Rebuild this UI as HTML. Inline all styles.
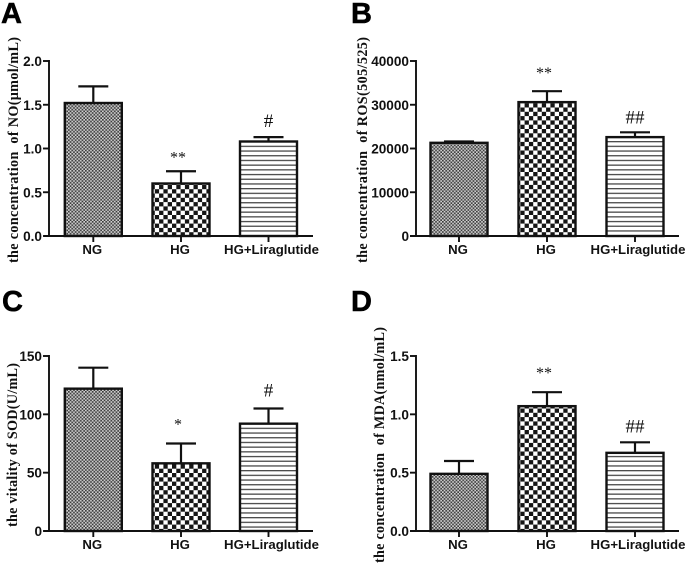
<!DOCTYPE html>
<html lang="en">
<head>
<meta charset="utf-8">
<title>Four-panel bar charts</title>
<style>
html,body{margin:0;padding:0;background:#fff;width:687px;height:566px;overflow:hidden}
svg{display:block}
.tick{font:bold 13.6px "Liberation Sans",sans-serif;fill:#111}
.cat{font:bold 13.2px "Liberation Sans",sans-serif;fill:#111}
.ytitle{font:bold 14.2px "Liberation Serif",serif;fill:#111}
.letter{font:bold 29px "Liberation Sans",sans-serif;fill:#000;stroke:#000;stroke-width:.5px}
.sig{font:16px "Liberation Serif",serif;fill:#111}
.hash{font:19px "Liberation Serif",serif;fill:#111}
</style>
</head>
<body>
<svg id="figure" xmlns="http://www.w3.org/2000/svg" width="687" height="566" viewBox="0 0 687 566">
  <defs>
    <pattern id="fine" patternUnits="userSpaceOnUse" width="3.4" height="3.4">
      <rect width="3.4" height="3.4" fill="#d2d2d2"/>
      <rect width="1.7" height="1.7" fill="#3c3c3c"/>
      <rect x="1.7" y="1.7" width="1.7" height="1.7" fill="#3c3c3c"/>
    </pattern>
    <pattern id="checker" patternUnits="userSpaceOnUse" width="8.6" height="8.6">
      <rect width="8.6" height="8.6" fill="#fff"/>
      <rect width="4.3" height="4.3" fill="#151515"/>
      <rect x="4.3" y="4.3" width="4.3" height="4.3" fill="#151515"/>
    </pattern>
    <pattern id="lines" patternUnits="userSpaceOnUse" width="10" height="4.7">
      <rect width="10" height="4.7" fill="#fff"/>
      <rect y="0" width="10" height="1.3" fill="#4a4a4a"/>
    </pattern>
  </defs>
</svg>
<script>
const categories = ['NG', 'HG', 'HG+Liraglutide'];

const valuesA = [1.52, 0.60, 1.08];
const errorTopsA = [1.71, 0.74, 1.13];
const ticksA = [0, 0.5, 1.0, 1.5, 2.0];
const tickLabelsA = ['0.0', '0.5', '1.0', '1.5', '2.0'];
const marksA = ['', '**', '#'];

const valuesB = [21300, 30600, 22600];
const errorTopsB = [21600, 33100, 23700];
const ticksB = [0, 10000, 20000, 30000, 40000];
const tickLabelsB = ['0', '10000', '20000', '30000', '40000'];
const marksB = ['', '**', '##'];

const valuesC = [122, 58, 92];
const errorTopsC = [140, 75, 105];
const ticksC = [0, 50, 100, 150];
const tickLabelsC = ['0', '50', '100', '150'];
const marksC = ['', '*', '#'];

const valuesD = [0.49, 1.07, 0.67];
const errorTopsD = [0.60, 1.19, 0.76];
const ticksD = [0, 0.5, 1.0, 1.5];
const tickLabelsD = ['0.0', '0.5', '1.0', '1.5'];
const marksD = ['', '**', '##'];

const panels = [
  {id:'a', letter:'A', lx:1, ly:23, axisX:49, top:61, bottom:236, xStart:44, xEnd:313, centers:[93.3,181,268.5],
   max:2, values:valuesA, tops:errorTopsA, ticks:ticksA, labels:tickLabelsA, marks:marksA,
   title:'the concentration  of NO(μmol/mL)', tx:18, ty1:263, ty2:37, gaps:[0,10,10]},
  {id:'b', letter:'B', lx:351, ly:23, axisX:416, top:61, bottom:236, xStart:410, xEnd:679, centers:[459,547,635],
   max:40000, values:valuesB, tops:errorTopsB, ticks:ticksB, labels:tickLabelsB, marks:marksB,
   title:'the concentration  of ROS(505/525)', tx:367, ty1:263, ty2:37, gaps:[0,14,9]},
  {id:'c', letter:'C', lx:2, ly:311, axisX:49, top:356, bottom:531, xStart:44, xEnd:313, centers:[93.3,181,268.5],
   max:150, values:valuesC, tops:errorTopsC, ticks:ticksC, labels:tickLabelsC, marks:marksC,
   title:'the vitality of SOD(U/mL)', tx:17, ty1:527, ty2:363, gaps:[0,15,12]},
  {id:'d', letter:'D', lx:351, ly:311, axisX:416, top:356, bottom:531, xStart:410, xEnd:679, centers:[459,547,635],
   max:1.5, values:valuesD, tops:errorTopsD, ticks:ticksD, labels:tickLabelsD, marks:marksD,
   title:'the concentration  of MDA(nmol/mL)', tx:384, ty1:563, ty2:327, gaps:[0,15,10]}
];
const fills = ['url(#fine)', 'url(#checker)', 'url(#lines)'];
const barHalf = 28.5;
const capHalf = 15;
const ink = '#111';

const svg = document.getElementById('figure');
const NS = 'http://www.w3.org/2000/svg';

function make(tag, attrs, parent, text) {
  const node = document.createElementNS(NS, tag);
  for (const k in attrs) node.setAttribute(k, attrs[k]);
  if (text !== undefined) node.textContent = text;
  parent.appendChild(node);
  return node;
}

panels.forEach(function (p) {
  const y = function (v) { return p.bottom - (v / p.max) * (p.bottom - p.top); };

  const g = make('g', {}, svg);
  
  

  const letter = make('text', {x: p.lx, y: p.ly, class: 'letter'}, g, p.letter);
  
  

  const title = make('text', {
    class: 'ytitle',
    transform: 'translate(' + p.tx + ',' + p.ty1 + ') rotate(-90)',
    textLength: p.ty1 - p.ty2,
    lengthAdjust: 'spacing',
    style: 'white-space:pre'
  }, g, p.title);
  
  

  categories.forEach(function (cat, i) {
    const cx = p.centers[i];
    const top = y(p.values[i]);
    const errTop = y(p.tops[i]);

    const stem = make('line', {x1: cx, x2: cx, y1: top, y2: errTop, stroke: ink, 'stroke-width': 2.2}, g);
    
    

    const cap = make('line', {x1: cx - capHalf, x2: cx + capHalf, y1: errTop, y2: errTop, stroke: ink, 'stroke-width': 2.2}, g);
    
    

    const bar = make('rect', {
      x: cx - barHalf, y: top, width: barHalf * 2, height: p.bottom - top,
      fill: fills[i], stroke: ink, 'stroke-width': 2.4
    }, g);
    
    

    const xt = make('line', {x1: cx, x2: cx, y1: p.bottom, y2: p.bottom + 6, stroke: ink, 'stroke-width': 1.9}, g);
    
    

    const lab = make('text', {x: cx + (i === 2 ? 3 : -1), y: p.bottom + 18, class: 'cat', 'text-anchor': 'middle'}, g, cat);
    
    

    if (p.marks[i]) {
      const isHash = p.marks[i].charAt(0) === '#';
      const m = make('text', {
        x: cx - (isHash ? 0 : 3), y: errTop - p.gaps[i] + (isHash ? 0 : 1),
        class: isHash ? 'hash' : 'sig', 'text-anchor': 'middle'
      }, g, p.marks[i]);
      
      
    }
  });

  const yAxis = make('line', {x1: p.axisX, x2: p.axisX, y1: p.top - 1, y2: p.bottom + 1, stroke: ink, 'stroke-width': 1.9}, g);
  
  

  const xAxis = make('line', {x1: p.xStart, x2: p.xEnd, y1: p.bottom, y2: p.bottom, stroke: ink, 'stroke-width': 1.9}, g);
  
  

  p.ticks.forEach(function (t, i) {
    const ty = y(t);
    const mark = make('line', {x1: p.axisX - 6, x2: p.axisX, y1: ty, y2: ty, stroke: ink, 'stroke-width': 1.9}, g);
    
    

    const lab = make('text', {x: p.axisX - 7, y: ty + 5, class: 'tick', 'text-anchor': 'end'}, g, p.labels[i]);
    
    
  });
});
</script>
</body>
</html>
